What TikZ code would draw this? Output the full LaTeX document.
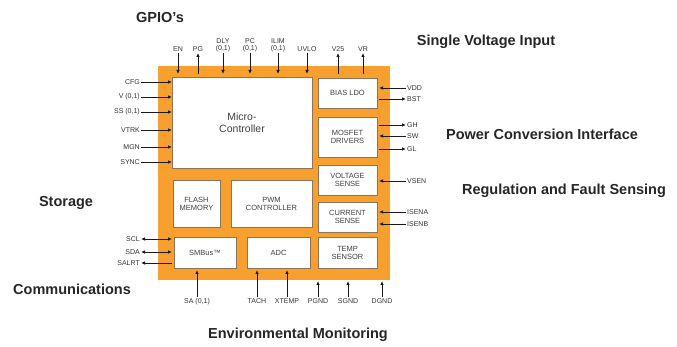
\documentclass[tikz,border=0pt]{standalone}
\usepackage{fontspec}
\setmainfont{Liberation Sans}
\usetikzlibrary{arrows.meta}
\definecolor{chiporange}{RGB}{247,160,48}
\definecolor{boxedge}{RGB}{140,115,90}
\tikzset{
  blk/.style={draw=boxedge, line width=0.6pt, fill=white, inner sep=0pt, align=center,
    font=\fontsize{7.5}{8}\selectfont, text=black!75},
  pinlbl/.style={inner sep=1pt, align=center, font=\fontsize{7}{7}\selectfont, text=black!80},
  grouplbl/.style={font=\bfseries\fontsize{14.5}{14.5}\selectfont, text=black!85},
  sig/.style={line width=0.8pt, black!90, >={Latex[length=4pt,width=3.5pt]}},
  tochip/.style={->}, fromchip/.style={<-}, bothway/.style={<->},
}
\begin{document}
\begin{tikzpicture}[x=1pt,y=-1pt]
\useasboundingbox (0,0) rectangle (677,347);
\node[fill=chiporange, minimum width=232, minimum height=214, inner sep=0pt] (chip) at (274,173) {};

\node[blk, minimum width=140, minimum height=91, font=\fontsize{10.5}{11.5}\selectfont] (mcu) at (242,122.5) {Micro-\\Controller};
\node[blk, minimum width=47, minimum height=47] (flash) at (196.5,203.5) {FLASH\\MEMORY};
\node[blk, minimum width=81, minimum height=47] (pwm) at (271.5,203.5) {PWM\\CONTROLLER};
\node[blk, minimum width=62, minimum height=31] (smbus) at (205,252.5) {SMBus™};
\node[blk, minimum width=63, minimum height=31] (adc) at (278.5,252.5) {ADC};
\node[blk, minimum width=59, minimum height=30] (bias) at (347.5,93) {BIAS LDO};
\node[blk, minimum width=59, minimum height=40] (mosfet) at (347.5,137) {MOSFET\\DRIVERS};
\node[blk, minimum width=59, minimum height=30] (vsense) at (347.5,180) {VOLTAGE\\SENSE};
\node[blk, minimum width=59, minimum height=30] (isense) at (347.5,217) {CURRENT\\SENSE};
\node[blk, minimum width=59, minimum height=31] (temp) at (347.5,252.5) {TEMP\\SENSOR};

% top pins
\foreach \x/\n/\t/\d in {178/en/EN/tochip, 198/pg/PG/fromchip, 223/dly/{DLY\\(0,1)}/tochip,
    250/pc/{PC\\(0,1)}/tochip, 278/ilim/{ILIM\\(0,1)}/tochip, 307/uvlo/UVLO/tochip,
    338/v25/V25/fromchip, 363/vr/VR/fromchip} {
  \node[pinlbl, anchor=south] (\n) at (\x,53) {\t};
  \coordinate (\n-in) at (\x,74);
  \draw[sig,\d] (\n) -- (\n-in);
}
% left pins
\foreach \y/\n/\t/\d in {82/cfg/CFG/tochip, 97/vsel/{V (0,1)}/tochip, 112/ss/{SS (0,1)}/tochip,
    130/vtrk/VTRK/tochip, 147/mgn/MGN/tochip, 162/sync/SYNC/tochip,
    239/scl/SCL/bothway, 252/sda/SDA/bothway, 263/salrt/SALRT/fromchip} {
  \node[pinlbl, anchor=east] (\n) at (141,\y) {\t};
  \coordinate (\n-in) at (172,\y);
  \draw[sig,\d] (\n.east) -- (\n-in);
}
% right pins
\foreach \y/\n/\t/\d in {88/vdd/VDD/tochip, 99/bst/BST/fromchip, 125/gh/GH/fromchip,
    136/sw/SW/tochip, 149/gl/GL/fromchip, 181/vsen/VSEN/tochip,
    212/isena/ISENA/tochip, 224/isenb/ISENB/tochip} {
  \node[pinlbl, anchor=west] (\n) at (406,\y) {\t};
  \coordinate (\n-in) at (379,\y);
  \draw[sig,\d] (\n.west) -- (\n-in);
}
% bottom pins
\foreach \x/\n/\t/\e in {197/sa/{SA (0,1)}/270, 257/tach/TACH/270, 287/xtemp/XTEMP/270,
    318/pgnd/PGND/281, 348/sgnd/SGND/281, 382/dgnd/DGND/281} {
  \node[pinlbl, anchor=north] (\n) at (\x,297) {\t};
  \coordinate (\n-in) at (\x,\e);
  \draw[sig,tochip] (\n.north) -- (\n-in);
}

\node[grouplbl] (gpio) at (160,18) {GPIO's};
\node[grouplbl] (svi) at (486,42) {Single Voltage Input};
\node[grouplbl] (pci) at (542,134) {Power Conversion Interface};
\node[grouplbl] (rfs) at (564,191) {Regulation and Fault Sensing};
\node[grouplbl] (storage) at (66,203) {Storage};
\node[grouplbl] (comms) at (72,289) {Communications};
\node[grouplbl] (envmon) at (298,335) {Environmental Monitoring};
\end{tikzpicture}
\end{document}
